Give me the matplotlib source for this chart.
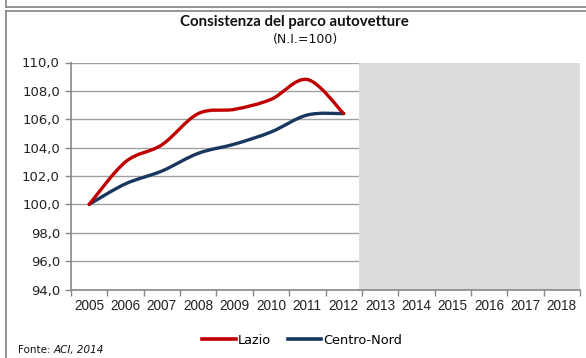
import matplotlib
matplotlib.use("Agg")
import matplotlib.pyplot as plt
from matplotlib.path import Path
from matplotlib.patches import PathPatch, Rectangle
from matplotlib.lines import Line2D
import numpy as np

# Index of the car fleet (2005 = 100)
years = ["2005", "2006", "2007", "2008", "2009", "2010", "2011", "2012",
         "2013", "2014", "2015", "2016", "2017", "2018"]
lazio = [100.0, 103.0, 104.2, 106.4, 106.7, 107.4, 108.8, 106.4]
centro_nord = [100.0, 101.45, 102.35, 103.6, 104.25, 105.1, 106.3, 106.4]
forecast_start = "2013"

y_ticks = [94, 96, 98, 100, 102, 104, 106, 108, 110]

W, H = 586, 358
fig = plt.figure(figsize=(W / 100, H / 100), dpi=100)

def fx(px):
    return px / W

def fy(py):
    return 1 - py / H

ax = fig.add_axes([fx(71), fy(289.5), fx(580 - 71), (289.5 - 62.5) / H])

grid_col = "#A0A0A0"
for v in y_ticks:
    ax.axhline(v, color=grid_col, lw=1.0, zorder=1)

# forecast period shading
fs = years.index(forecast_start)
ax.add_patch(Rectangle((fs - 0.58, 94), len(years) - 0.5 - (fs - 0.58), 16,
                       facecolor="#DCDCDC", edgecolor="none", zorder=2))


def smooth_path(xs, ys):
    """Smoothed poly-Bezier through the points (Catmull-Rom style)."""
    pts = np.column_stack([xs, ys]).astype(float)
    n = len(pts)
    verts = [pts[0]]
    codes = [Path.MOVETO]
    for i in range(n - 1):
        p0 = pts[i - 1] if i > 0 else pts[i]
        p1 = pts[i]
        p2 = pts[i + 1]
        p3 = pts[i + 2] if i + 2 < n else pts[i + 1]
        c1 = p1 + (p2 - p0) / 6.0
        c2 = p2 - (p3 - p1) / 6.0
        verts += [c1, c2, p2]
        codes += [Path.CURVE4] * 3
    return Path(verts, codes)


red = "#C00000"
navy = "#17375E"
for vals, col, z in [(centro_nord, navy, 4), (lazio, red, 5)]:
    xs = np.arange(len(vals))
    ax.add_patch(PathPatch(smooth_path(xs, vals), facecolor="none",
                           edgecolor=col, lw=2.4, capstyle="round",
                           joinstyle="round", zorder=z))

ax.set_xlim(-0.5, len(years) - 0.5)
ax.set_ylim(94, 110)

ax.set_yticks(y_ticks)
ax.set_yticklabels([f"{v:.1f}".replace(".", ",") for v in y_ticks],
                   fontsize=9.5, family="DejaVu Sans", color="#222222")
ax.set_xticks(np.arange(len(years)))
ax.set_xticklabels(years, fontsize=9.8, family="Liberation Sans",
                   color="#222222")
ax.set_xticks(np.arange(len(years) + 1) - 0.5, minor=True)
ax.tick_params(axis="x", which="major", length=0, pad=7)
ax.tick_params(axis="x", which="minor", length=4, color="#888888", width=1)
ax.tick_params(axis="y", length=4, color="#888888", width=1, pad=4)

for s in ["top", "right"]:
    ax.spines[s].set_visible(False)
for s in ["left", "bottom"]:
    ax.spines[s].set_color("#888888")
    ax.spines[s].set_linewidth(1.2)
    ax.spines[s].set_zorder(6)

# titles
fig.text(fx(294), fy(22), "Consistenza del parco autovetture",
         ha="center", va="center", fontsize=10.8, fontweight="bold",
         family="Lato", color="#111111")
fig.text(fx(305), fy(40), "(N.I.=100)", ha="center", va="center",
         fontsize=9, family="DejaVu Sans", color="#111111")

# legend
handles = [Line2D([], [], color=red, lw=2.6), Line2D([], [], color=navy, lw=2.6)]
leg = fig.legend(handles, ["Lazio", "Centro-Nord"], loc="center",
                 bbox_to_anchor=(fx(302), fy(340)), ncol=2, frameon=False,
                 handlelength=2.6, handletextpad=0.15,
                 columnspacing=1.3, prop={"family": "DejaVu Sans", "size": 9.3})

# source note
t1 = fig.text(fx(18), fy(350), "Fonte: ", ha="left", va="center",
              fontsize=7.5, family="DejaVu Sans", color="#111111")
fig.canvas.draw()
bb = t1.get_window_extent()
fig.text(bb.x1 / W, fy(350), "ACI, 2014", ha="left", va="center",
         fontsize=7.5, family="DejaVu Sans", style="italic", color="#111111")

# outer frame lines
frame_col = "#8C8C8C"
fig.add_artist(Line2D([fx(6), 1], [fy(6.5), fy(6.5)], color=frame_col, lw=1.3))
fig.add_artist(Line2D([fx(6), fx(6)], [1, fy(6.5)], color=frame_col, lw=1.3))
fig.add_artist(Line2D([fx(6), 1], [fy(10.5), fy(10.5)], color=frame_col, lw=1.3))
fig.add_artist(Line2D([fx(6), fx(6)], [fy(10.5), 0], color=frame_col, lw=1.3))

fig.savefig("out.png", dpi=100)
